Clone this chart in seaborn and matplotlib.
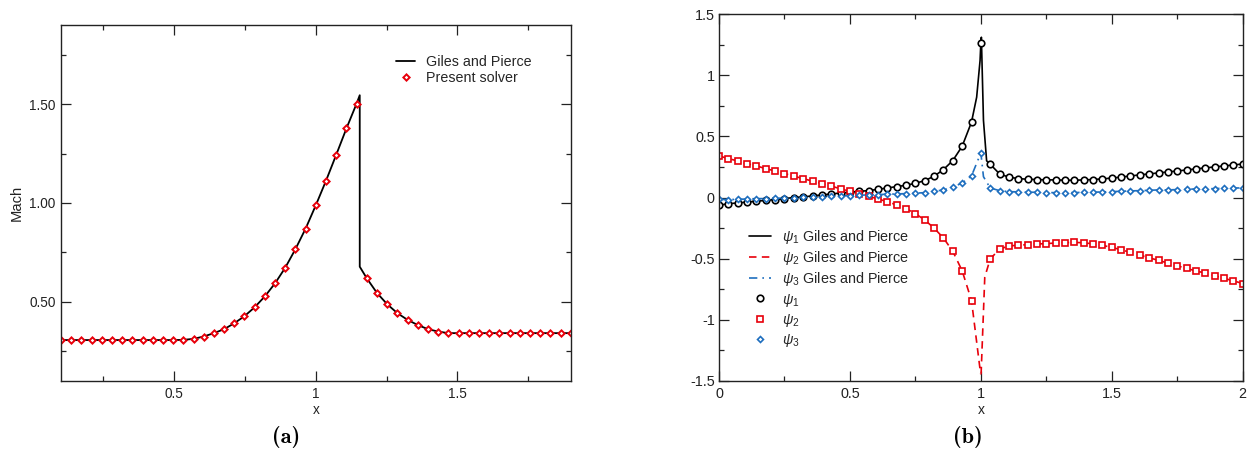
import os
import numpy as np
import matplotlib
matplotlib.use("Agg")
import matplotlib.pyplot as plt
from matplotlib.ticker import MultipleLocator, FixedLocator, FixedFormatter
from matplotlib.font_manager import FontProperties
import seaborn as sns

# ---------------- data: panel (a) ----------------
mach_grid_x = np.round(np.linspace(0.1, 1.9, 51), 3)          # solver sample positions
mach_present = [0.307, 0.307, 0.307, 0.307, 0.307, 0.307, 0.307, 0.307, 0.307, 0.307,
                0.307, 0.307, 0.308, 0.313, 0.325, 0.342, 0.362, 0.392, 0.428, 0.473,
                0.528, 0.594, 0.673, 0.767, 0.871, 0.989, 1.113, 1.244, 1.377, 1.503,
                0.619, 0.545, 0.488, 0.443, 0.409, 0.383, 0.362, 0.350, 0.342, 0.342,
                0.342, 0.342, 0.342, 0.342, 0.342, 0.342, 0.342, 0.342, 0.342, 0.342,
                0.342]
shock_x = [1.155, 1.155]
shock_mach = [1.545, 0.678]

# ---------------- data: panel (b) ----------------
psi_grid_x = np.round(np.linspace(0.0, 2.0, 57), 4)            # solver sample positions
psi1 = [-0.064, -0.050, -0.045, -0.037, -0.031, -0.023, -0.017, -0.009, 0.000, 0.005,
        0.013, 0.021, 0.029, 0.037, 0.043, 0.051, 0.056, 0.067, 0.078, 0.089,
        0.100, 0.116, 0.138, 0.174, 0.228, 0.302, 0.419, 0.616, 1.265, 0.272,
        0.193, 0.166, 0.155, 0.149, 0.147, 0.144, 0.144, 0.141, 0.141, 0.144,
        0.147, 0.152, 0.159, 0.167, 0.176, 0.185, 0.193, 0.201, 0.209, 0.217,
        0.225, 0.234, 0.242, 0.250, 0.258, 0.266, 0.274]
psi2 = [0.340, 0.318, 0.299, 0.277, 0.258, 0.236, 0.217, 0.196, 0.174, 0.155,
        0.133, 0.114, 0.094, 0.070, 0.051, 0.032, 0.010, -0.012, -0.034, -0.061,
        -0.091, -0.132, -0.184, -0.250, -0.331, -0.440, -0.599, -0.842, np.nan, -0.503,
        -0.421, -0.397, -0.389, -0.386, -0.380, -0.377, -0.372, -0.369, -0.367, -0.370,
        -0.379, -0.391, -0.408, -0.427, -0.449, -0.471, -0.493, -0.514, -0.536, -0.558,
        -0.580, -0.600, -0.618, -0.639, -0.661, -0.681, -0.703]
psi3 = [-0.015, -0.017, -0.015, -0.012, -0.009, -0.009, -0.007, -0.004, 0.000, 0.003,
        0.005, 0.008, 0.011, 0.013, 0.016, 0.019, 0.021, 0.024, 0.027, 0.029,
        0.032, 0.035, 0.040, 0.051, 0.062, 0.084, 0.119, 0.176, 0.365, 0.078,
        0.056, 0.048, 0.046, 0.043, 0.043, 0.040, 0.040, 0.040, 0.040, 0.043,
        0.043, 0.046, 0.048, 0.051, 0.054, 0.056, 0.059, 0.062, 0.062, 0.065,
        0.067, 0.070, 0.070, 0.073, 0.076, 0.078, 0.078]
# reference (Giles and Pierce) curves: extra resolved points around the singularity at x = 1
psi1_peak_x = [0.984, 0.997, 1.0, 1.002, 1.010, 1.022]
psi1_peak_y = [0.82, 1.12, 1.265, 1.31, 0.63, 0.30]
psi2_peak_x = [0.999, 1.001, 1.015]
psi2_peak_y = [-1.44, -1.44, -0.65]
psi3_peak_x = [1.0, 1.010]
psi3_peak_y = [0.365, 0.17]

# ---------------- style ----------------
sns.set_style("ticks")
plt.rcParams["font.family"] = ["Liberation Sans", "DejaVu Sans"]
plt.rcParams["mathtext.fontset"] = "custom"
plt.rcParams["mathtext.rm"] = "Liberation Sans"
plt.rcParams["mathtext.it"] = "Liberation Sans:italic"
plt.rcParams["mathtext.bf"] = "Liberation Sans:bold"

RED = "#e8000b"
BLUE = "#1f6fbf"
INK = "#222222"

W, H = 1252, 454
fig = plt.figure(figsize=(W / 100, H / 100), dpi=100)
axA = fig.add_axes([61 / W, 1 - 381 / H, (570.7 - 61) / W, (381 - 25) / H])
axB = fig.add_axes([719 / W, 1 - 381 / H, (1242.7 - 719) / W, (381 - 14) / H])


def style_axes(ax, fs):
    for s in ax.spines.values():
        s.set_color(INK)
        s.set_linewidth(1.0)
        s.set_visible(True)
    ax.tick_params(which="both", direction="in", top=True, right=True,
                   color=INK, labelcolor=INK, labelsize=fs, pad=4)
    ax.tick_params(which="major", length=7, width=0.9)
    ax.tick_params(which="minor", length=3.6, width=0.9)


# ---------------- panel (a) ----------------
giles_x = list(mach_grid_x[:30]) + shock_x + list(mach_grid_x[30:])
giles_mach = mach_present[:30] + shock_mach + mach_present[30:]
sns.lineplot(x=giles_x, y=giles_mach, ax=axA, estimator=None, sort=False,
             color="black", linewidth=1.3, label="Giles and Pierce")
sns.lineplot(x=mach_grid_x, y=mach_present, ax=axA, estimator=None, sort=False,
             color=RED, linestyle="", marker="D", markersize=3.2,
             markerfacecolor="white", markeredgecolor=RED, markeredgewidth=1.4,
             label="Present solver")
axA.set_xlim(0.1, 1.9)
axA.set_ylim(0.1, 1.9)
axA.xaxis.set_major_locator(FixedLocator([0.5, 1.0, 1.5]))
axA.xaxis.set_major_formatter(FixedFormatter(["0.5", "1", "1.5"]))
axA.yaxis.set_major_locator(FixedLocator([0.5, 1.0, 1.5]))
axA.yaxis.set_major_formatter(FixedFormatter(["0.50", "1.00", "1.50"]))
axA.xaxis.set_minor_locator(MultipleLocator(0.25))
axA.yaxis.set_minor_locator(MultipleLocator(0.25))
style_axes(axA, 9.8)
axA.set_xlabel("x", fontsize=9.8, color=INK, labelpad=2)
axA.set_ylabel("Mach", fontsize=10.6, color=INK, labelpad=4)
hA, lA = axA.get_legend_handles_labels()
axA.legend(hA, lA, loc="upper left", bbox_to_anchor=(396 / W, 1 - 55 / H),
           bbox_transform=fig.transFigure, frameon=False, fontsize=10.3,
           handlelength=1.35, handletextpad=0.75, labelspacing=0.15,
           borderpad=0, borderaxespad=0, numpoints=1)

# ---------------- panel (b) ----------------
l1x = list(psi_grid_x[:28]) + psi1_peak_x + list(psi_grid_x[29:])
l1y = psi1[:28] + psi1_peak_y + psi1[29:]
l2x = list(psi_grid_x[:28]) + psi2_peak_x + list(psi_grid_x[29:])
l2y = psi2[:28] + psi2_peak_y + psi2[29:]
l3x = list(psi_grid_x[:28]) + psi3_peak_x + list(psi_grid_x[29:])
l3y = psi3[:28] + psi3_peak_y + psi3[29:]

sns.lineplot(x=l1x, y=l1y, ax=axB, estimator=None, sort=False, color="black",
             linewidth=1.2, label=r"$\psi_1$ Giles and Pierce")
sns.lineplot(x=l2x, y=l2y, ax=axB, estimator=None, sort=False, color=RED,
             linewidth=1.2, linestyle=(0, (4.5, 3.2)), label=r"$\psi_2$ Giles and Pierce")
sns.lineplot(x=l3x, y=l3y, ax=axB, estimator=None, sort=False, color=BLUE,
             linewidth=1.2, linestyle=(0, (5, 3, 1, 3)), label=r"$\psi_3$ Giles and Pierce")
sns.lineplot(x=psi_grid_x, y=psi1, ax=axB, estimator=None, sort=False, color="black",
             linestyle="", marker="o", markersize=4.7, markerfacecolor="white",
             markeredgecolor="black", markeredgewidth=1.2, label=r"$\psi_1$")
sns.lineplot(x=psi_grid_x, y=psi2, ax=axB, estimator=None, sort=False, color=RED,
             linestyle="", marker="s", markersize=3.8, markerfacecolor="white",
             markeredgecolor=RED, markeredgewidth=1.2, label=r"$\psi_2$")
sns.lineplot(x=psi_grid_x, y=psi3, ax=axB, estimator=None, sort=False, color=BLUE,
             linestyle="", marker="D", markersize=3.0, markerfacecolor="white",
             markeredgecolor=BLUE, markeredgewidth=1.2, label=r"$\psi_3$")
axB.set_xlim(0, 2)
axB.set_ylim(-1.5, 1.5)
axB.xaxis.set_major_locator(FixedLocator([0, 0.5, 1, 1.5, 2]))
axB.xaxis.set_major_formatter(FixedFormatter(["0", "0.5", "1", "1.5", "2"]))
axB.yaxis.set_major_locator(FixedLocator([-1.5, -1, -0.5, 0, 0.5, 1, 1.5]))
axB.yaxis.set_major_formatter(FixedFormatter(["-1.5", "-1", "-0.5", "0", "0.5", "1", "1.5"]))
axB.xaxis.set_minor_locator(MultipleLocator(0.25))
axB.yaxis.set_minor_locator(MultipleLocator(0.25))
style_axes(axB, 10.4)
axB.tick_params(axis="y", pad=3)
axB.set_xlabel("x", fontsize=10.0, color=INK, labelpad=2)
axB.set_ylabel("")
hB, lB = axB.get_legend_handles_labels()
axB.legend(hB, lB, loc="upper left", bbox_to_anchor=(749 / W, 1 - 228 / H),
           bbox_transform=fig.transFigure, frameon=False, fontsize=10.4,
           handlelength=1.55, handletextpad=0.75, labelspacing=0.22,
           borderpad=0, borderaxespad=0, numpoints=1)

# ---------------- captions ----------------
cmb = os.path.join(matplotlib.get_data_path(), "fonts", "ttf", "cmb10.ttf")
cap_font = FontProperties(fname=cmb, size=16)
fig.text(286.5 / W, 1 - 437 / H, "(a)", ha="center", va="center",
         fontproperties=cap_font, color="black")
fig.text(967.5 / W, 1 - 437 / H, "(b)", ha="center", va="center",
         fontproperties=cap_font, color="black")

fig.savefig("out.png", dpi=100)
